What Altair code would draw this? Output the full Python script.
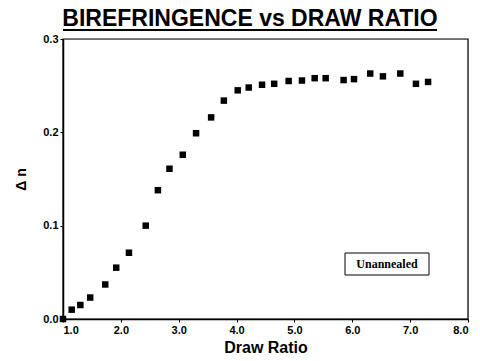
import altair as alt
import pandas as pd

draw_ratio = [1.00, 1.15, 1.30, 1.47, 1.73, 1.92, 2.14, 2.43, 2.64, 2.84, 3.07, 3.30,
              3.56, 3.78, 4.02, 4.21, 4.44, 4.65, 4.90, 5.13, 5.35, 5.54, 5.85, 6.03,
              6.31, 6.53, 6.83, 7.10, 7.31]
biref = [0.000, 0.010, 0.015, 0.023, 0.037, 0.055, 0.071, 0.100, 0.138, 0.161, 0.176, 0.199,
         0.216, 0.234, 0.245, 0.248, 0.251, 0.252, 0.255, 0.2555, 0.258, 0.258, 0.256, 0.257,
         0.263, 0.260, 0.263, 0.252, 0.254]
x_ticks = [1.0, 2.0, 3.0, 4.0, 5.0, 6.0, 7.0, 8.0]
y_ticks = [0.0, 0.1, 0.2, 0.3]

df = pd.DataFrame({"x": draw_ratio, "y": biref})

W, H = 405, 280
FONT = "Liberation Sans"

frame = alt.Chart(pd.DataFrame({"a": [0]})).mark_rect(
    fill=None, stroke="black", strokeWidth=1.2
).encode(x=alt.value(0), x2=alt.value(W), y=alt.value(0), y2=alt.value(H))

points = alt.Chart(df).mark_point(
    shape="square", filled=True, color="black", size=42, opacity=1, clip=False
).encode(
    x=alt.X("x:Q", scale=alt.Scale(domain=[1, 8], nice=False, zero=False),
            axis=alt.Axis(values=x_ticks, format=".1f", title="Draw Ratio",
                          labelFont=FONT, labelFontWeight="bold", labelFontSize=11,
                          labelColor="black", titleFont=FONT, titleFontWeight="bold",
                          titleFontSize=16, titleColor="black", titlePadding=4,
                          domainColor="black", domainWidth=1.5, tickColor="black",
                          tickSize=3, grid=False, labelPadding=2)),
    y=alt.Y("y:Q", scale=alt.Scale(domain=[0, 0.3], nice=False),
            axis=alt.Axis(values=y_ticks, format=".1f", title="Δ n",
                          labelFont=FONT, labelFontWeight="bold", labelFontSize=11,
                          labelColor="black", titleFont=FONT, titleFontWeight="bold",
                          titleFontSize=14, titleColor="black", titlePadding=14,
                          domainColor="black", domainWidth=1.5, tickColor="black",
                          tickSize=3, grid=False, labelPadding=2)),
)

title = alt.Chart(pd.DataFrame({"t": ["BIREFRINGENCE vs DRAW RATIO"]})).mark_text(
    font=FONT, fontWeight="bold", fontSize=23, color="black", align="center",
    baseline="alphabetic"
).encode(text="t:N", x=alt.value(187), y=alt.value(-13))

underline = alt.Chart(pd.DataFrame({"a": [0]})).mark_rule(color="black", strokeWidth=2).encode(
    x=alt.value(0), x2=alt.value(374), y=alt.value(-9)
)

box = alt.Chart(pd.DataFrame({"a": [0]})).mark_rect(
    fill="white", stroke="black", strokeWidth=1
).encode(x=alt.value(282), x2=alt.value(366), y=alt.value(214), y2=alt.value(236))

label = alt.Chart(pd.DataFrame({"t": ["Unannealed"]})).mark_text(
    font="Liberation Serif", fontWeight="bold", fontSize=12, color="black",
    align="center", baseline="middle"
).encode(text="t:N", x=alt.value(324), y=alt.value(225))

chart = alt.layer(frame, points, title, underline, box, label).properties(
    width=W, height=H,
    autosize=alt.AutoSizeParams(type="none"),
    padding={"left": 63, "top": 39, "right": 12, "bottom": 42},
).configure_view(stroke=None).configure(background="white")

chart.save("out.html", embed_options={"renderer": "svg", "actions": False})
